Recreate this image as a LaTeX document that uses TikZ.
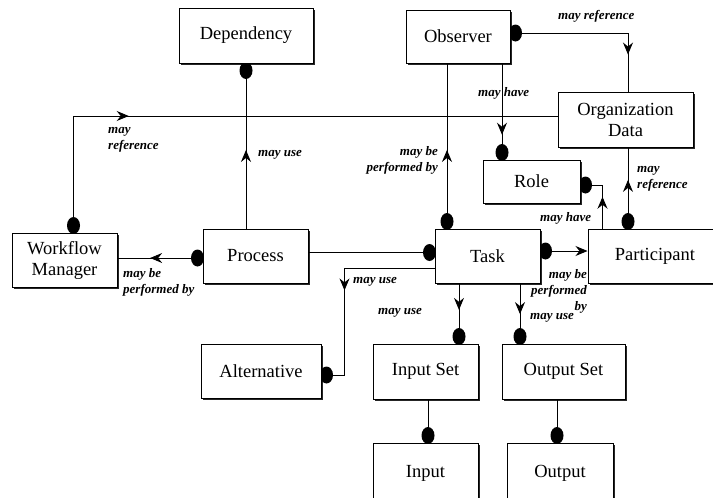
\documentclass[tikz,border=0pt]{standalone}
\usepackage{fontspec}
\setmainfont{Liberation Serif}
\usetikzlibrary{arrows.meta,shapes.geometric,shadows,decorations.markings,backgrounds,calc}
\begin{document}
\begin{tikzpicture}[x=1pt,y=-1pt,
  box/.style={draw, line width=1pt, fill=white, font=\fontsize{18.5}{21}\selectfont, align=center, inner sep=0pt,
    drop shadow={shadow xshift=1.8pt, shadow yshift=-1.8pt, fill=black, opacity=0.85}},
  lbl/.style={font=\fontsize{13}{16}\selectfont\bfseries\itshape, inner sep=0pt},
  conn/.style={line width=0.9pt},
  dotn/.style={ellipse, fill=black, inner sep=0pt, minimum width=13pt, minimum height=17pt},
  arrowat/.style={postaction={decorate}, decoration={markings, mark=at position #1 with {\arrow{Stealth[length=12pt,width=10pt,inset=4pt]}}}},
  endarrow/.style={-{Stealth[length=12pt,width=10pt,inset=4pt]}}
]
\useasboundingbox (0,0) rectangle (713,498);
\clip (0,0) rectangle (713,498);

% boxes
\node[box, minimum width=134pt, minimum height=55pt] (dep) at (246,35.5) {Dependency};
\node[box, minimum width=104pt, minimum height=53pt] (obs) at (458,36.5) {Observer};
\node[box, minimum width=135pt, minimum height=55pt] (org) at (625.5,119.5) {Organization\\Data};
\node[box, minimum width=97pt, minimum height=43pt] (role) at (531.5,181.5) {Role};
\node[box, minimum width=105pt, minimum height=54pt] (wm) at (64.5,260) {Workflow\\Manager};
\node[box, minimum width=105pt, minimum height=54pt] (proc) at (255.5,256) {Process};
\node[box, minimum width=105pt, minimum height=54pt] (task) at (487.5,256) {Task};
\node[box, minimum width=134pt, minimum height=54pt] (part) at (655,256) {Participant};
\node[box, minimum width=120pt, minimum height=54pt] (alt) at (261,371) {Alternative};
\node[box, minimum width=105pt, minimum height=55pt] (inset) at (425.5,371.5) {Input Set};
\node[box, minimum width=123pt, minimum height=55pt] (outset) at (563.5,371.5) {Output Set};
\node[box, minimum width=105pt, minimum height=60pt] (input) at (425.5,473) {Input};
\node[box, minimum width=106pt, minimum height=60pt] (output) at (560,473) {Output};

% coordinates
\coordinate (wmt) at ([xshift=9pt]wm.north);
\coordinate (orgW) at ([yshift=3.5pt]org.west);
\coordinate (pW) at ([yshift=-2pt]proc.west);
\coordinate (pWm) at (pW -| wm.east);
\coordinate (pE) at ([yshift=3.5pt]proc.east);
\coordinate (tW) at ([yshift=3.5pt]task.west);
\coordinate (tW2) at ([yshift=-12pt]task.west);
\coordinate (altE) at ([yshift=-4pt]alt.east);
\coordinate (altC) at ([xshift=23pt]altE);
\coordinate (obsA) at ([xshift=-11pt]obs.south);
\coordinate (tA) at (task.north -| obsA);
\coordinate (obsB) at ([xshift=44pt]obs.south);
\coordinate (rB) at (role.north -| obsB);
\coordinate (oE) at ([yshift=3.5pt]obs.east);
\coordinate (orgT) at ([xshift=2.5pt]org.north);
\coordinate (orgB) at ([xshift=2.5pt]org.south);
\coordinate (pA) at (part.north -| orgB);
\coordinate (rE) at ([yshift=-3.5pt]role.east);
\coordinate (rEx) at ([xshift=22pt]rE);
\coordinate (pB) at (part.north -| rEx);
\coordinate (tE) at ([yshift=5pt]task.east);
\coordinate (tC) at ([xshift=-28.5pt]task.south);
\coordinate (iT) at (inset.north -| tC);
\coordinate (tD) at ([xshift=32.5pt]task.south);
\coordinate (oT) at (outset.north -| tD);
\coordinate (isB) at ([xshift=2.5pt]inset.south);
\coordinate (inT) at (input.north -| isB);
\coordinate (osB) at ([xshift=-6.5pt]outset.south);
\coordinate (ouT) at (output.north -| osB);
\coordinate (pdS) at (proc.north -| dep.south);

\begin{scope}[on background layer]
  \draw[conn, arrowat=0.476] (pdS) -- (dep.south);
  \node[dotn] (d1) at ([yshift=-7pt]dep.south) {};
  \draw[conn, arrowat=0.286] (wmt) |- (orgW);
  \node[dotn] (d2) at ([yshift=7pt]wmt) {};
  \draw[conn, arrowat=0.616] (pW) -- (pWm);
  \node[dotn] (d3) at ([xshift=-5pt]pW) {};
  \draw[conn] (pE) -- (tW);
  \node[dotn] (d4) at ([xshift=-5pt]tW) {};
  \draw[conn, arrowat=0.511] (tW2) -| (altC) -- (altE);
  \node[dotn] (d5) at ([xshift=5pt]altE) {};
  \draw[conn, arrowat=0.476] (tA) -- (obsA);
  \node[dotn] (d6) at ([yshift=7pt]tA) {};
  \draw[conn, arrowat=0.742] (obsB) -- (rB);
  \node[dotn] (d7) at ([yshift=7pt]rB) {};
  \draw[conn, arrowat=0.79] (oE) -| (orgT);
  \node[dotn] (d8) at ([xshift=5pt]oE) {};
  \draw[conn, arrowat=0.6] (pA) -- (orgB);
  \node[dotn] (d9) at ([yshift=7pt]pA) {};
  \draw[conn, arrowat=0.485] (pB) |- (rE);
  \node[dotn] (d10) at ([xshift=5pt]rE) {};
  \draw[conn, endarrow] (tE) -- (tE -| part.west);
  \node[dotn] (d11) at ([xshift=5pt]tE) {};
  \draw[conn, arrowat=0.44] (tC) -- (iT);
  \node[dotn] (d12) at ([yshift=7pt]iT) {};
  \draw[conn, arrowat=0.51] (tD) -- (oT);
  \node[dotn] (d13) at ([yshift=7pt]oT) {};
  \draw[conn] (isB) -- (inT);
  \node[dotn] (d14) at ([yshift=7pt]inT) {};
  \draw[conn] (osB) -- (ouT);
  \node[dotn] (d15) at ([yshift=7pt]ouT) {};
\end{scope}

% labels
\node[lbl, anchor=west] (l1) at (258,155) {may use};
\node[lbl, anchor=west, align=left] (l2) at (108,140) {may\\reference};
\node[lbl, anchor=west, align=left] (l3) at (123,282.5) {may be\\performed by};
\node[lbl, anchor=west] (l4) at (353,282) {may use};
\node[lbl, anchor=west] (l5) at (378,313) {may use};
\node[lbl, anchor=east, align=right] (l6) at (438,160) {may be\\performed by};
\node[lbl, anchor=west] (l7) at (478,93) {may have};
\node[lbl, anchor=west] (l8) at (558,16) {may reference};
\node[lbl, anchor=west, align=left] (l9) at (637,179) {may\\reference};
\node[lbl, anchor=west] (l10) at (540,218) {may have};
\node[lbl, anchor=east, align=right] (l11) at (587,291.5) {may be\\performed\\by};
\node[lbl, anchor=west] (l12) at (530,318) {may use};
\end{tikzpicture}
\end{document}
